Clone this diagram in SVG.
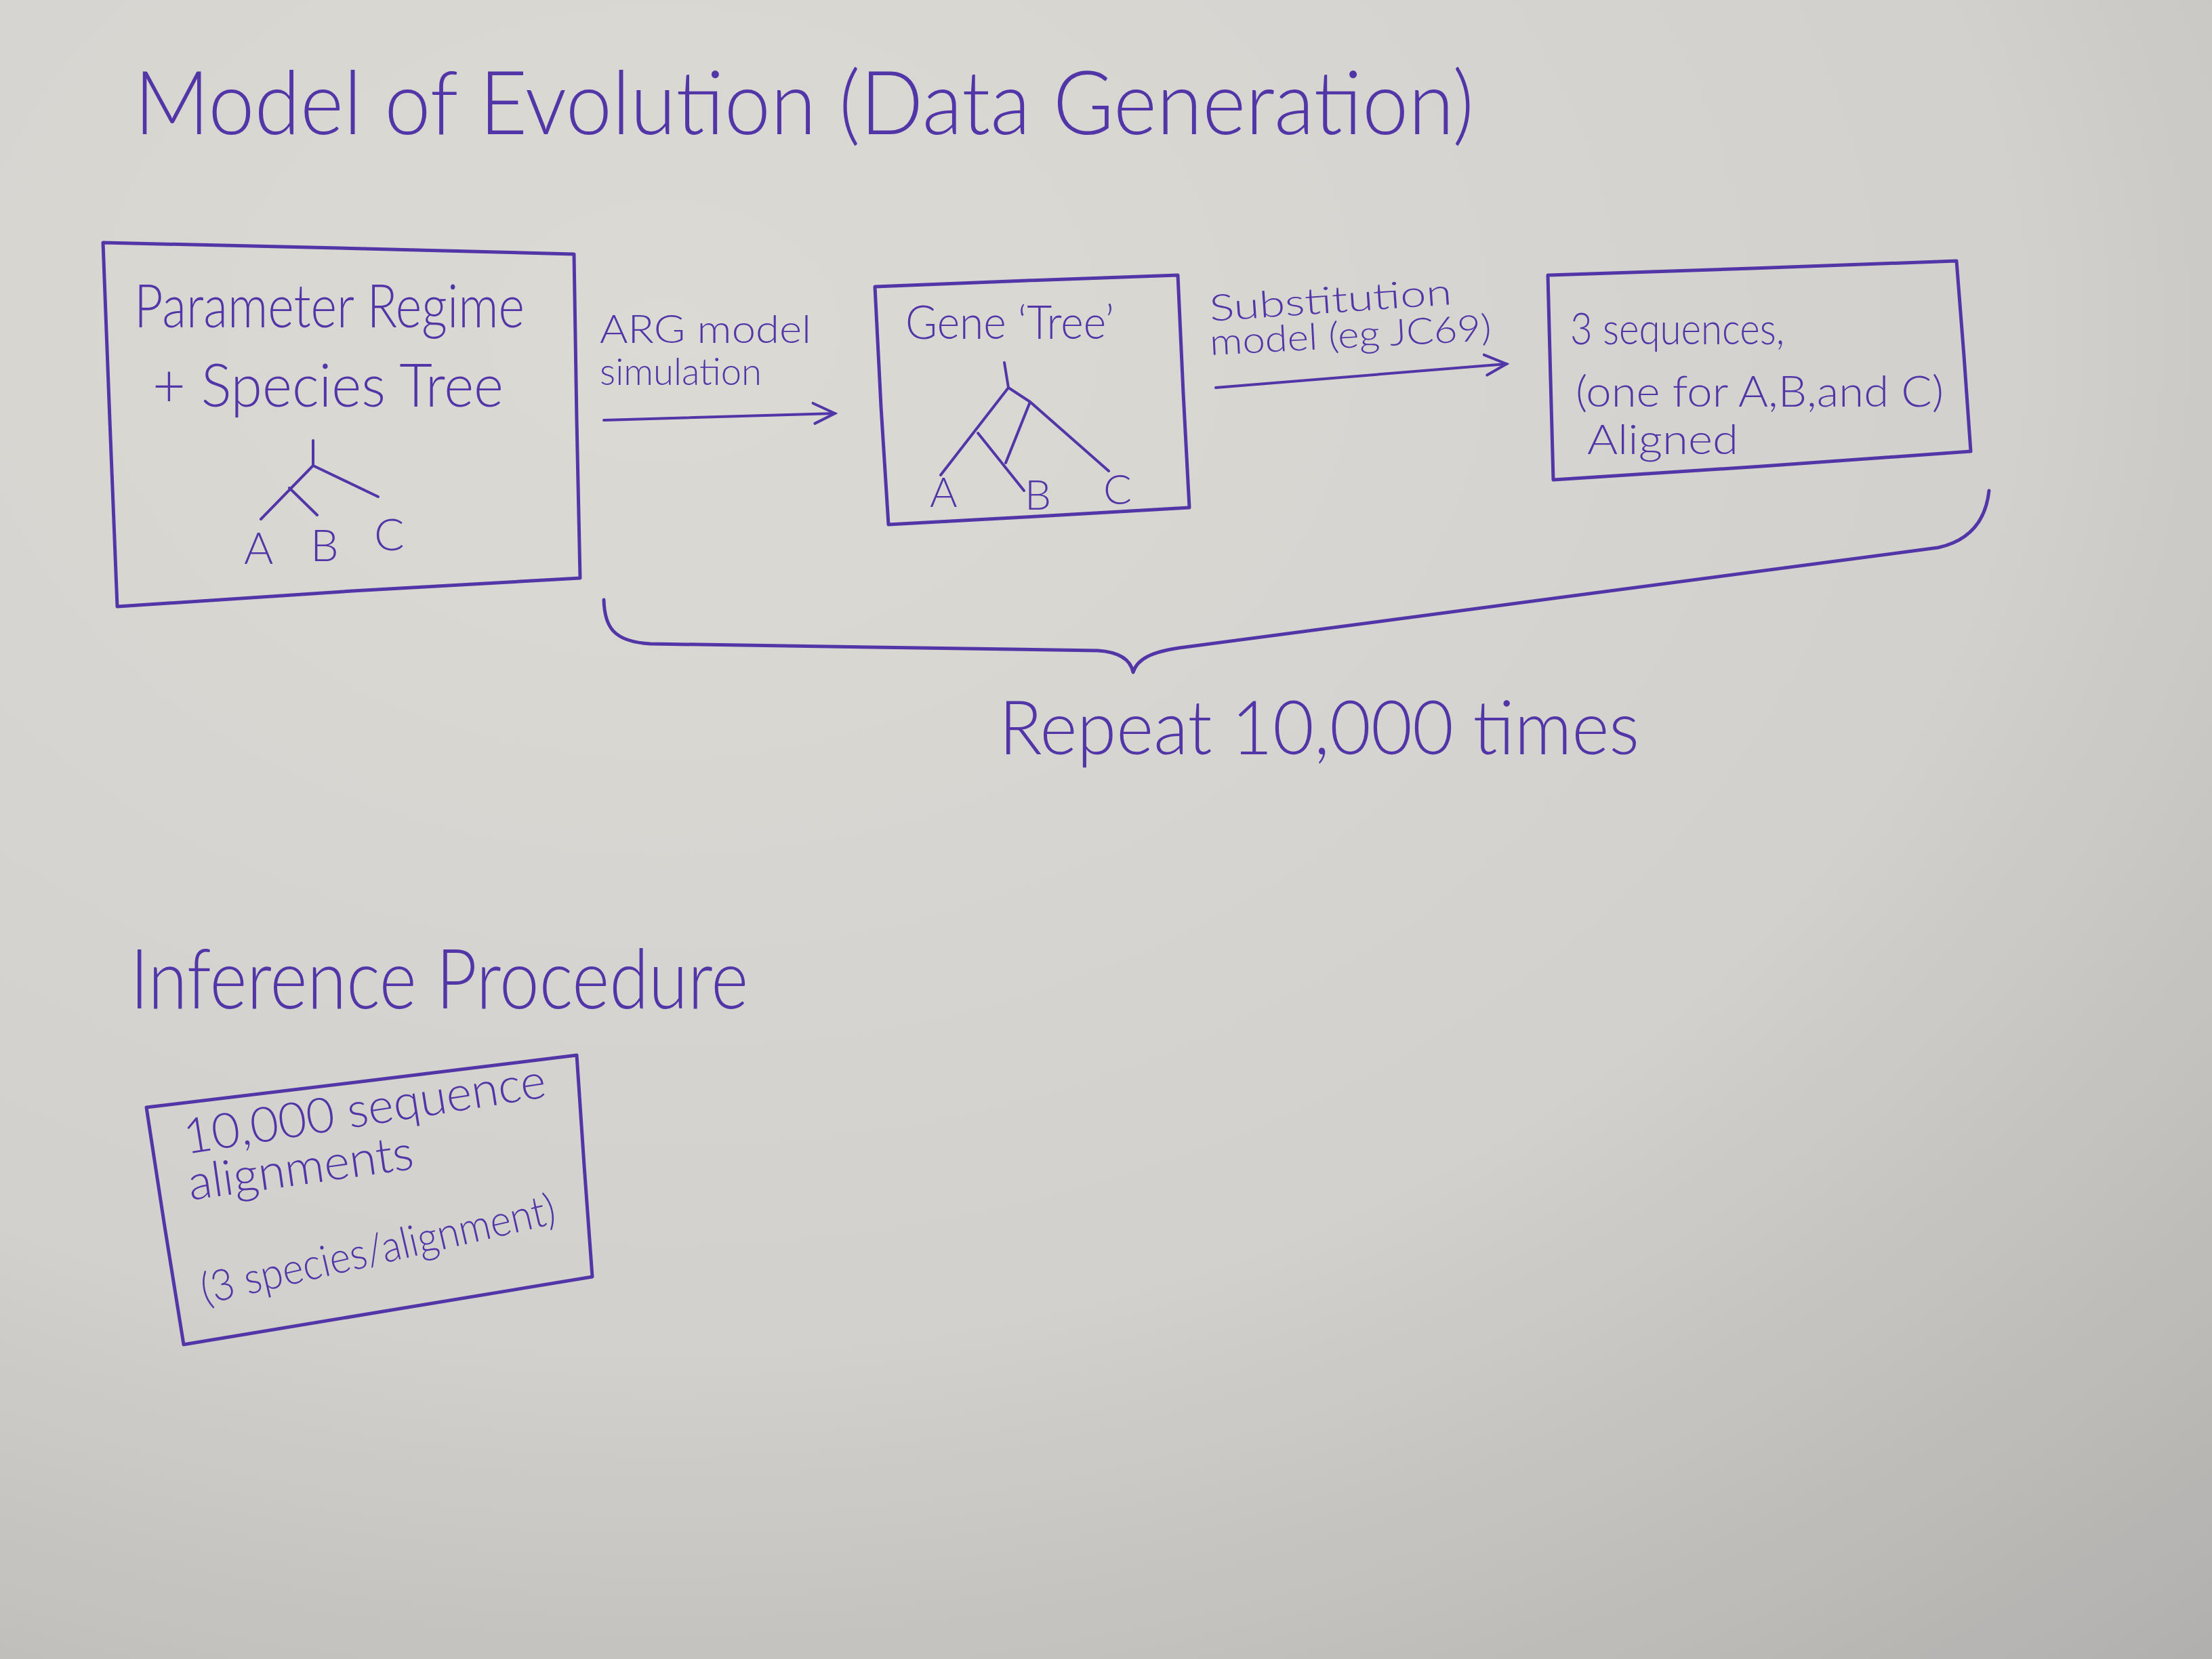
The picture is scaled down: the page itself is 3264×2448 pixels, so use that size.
<svg xmlns="http://www.w3.org/2000/svg" width="3264" height="2448" viewBox="0 0 3264 2448">
<defs>
<radialGradient id="paper" cx="0.3" cy="0.2" r="1.1">
<stop offset="0" stop-color="#dcdad5"/>
<stop offset="0.55" stop-color="#d3d1cd"/>
<stop offset="1" stop-color="#aeadab"/>
</radialGradient>
<marker id="arr" viewBox="0 0 40 40" refX="36" refY="20" markerWidth="40" markerHeight="40" markerUnits="userSpaceOnUse" orient="auto">
<path d="M4,4 L36,20 L6,34" fill="none" stroke="#5236a8" stroke-width="4" stroke-linecap="round"/>
</marker>
<style>
.ink{fill:none;stroke:#5236a8;stroke-width:5;stroke-linecap:round;stroke-linejoin:round}
.thin{fill:none;stroke:#5236a8;stroke-width:4;stroke-linecap:round;stroke-linejoin:round}
text{fill:#5236a8;font-family:"Lato","Liberation Sans",sans-serif;font-weight:300}
</style>
</defs>
<rect x="0" y="0" width="3264" height="2448" fill="url(#paper)"/>

<g id="title-model">
<text x="198" y="198" font-size="130" textLength="1977" lengthAdjust="spacingAndGlyphs">Model of Evolution (Data Generation)</text>
</g>

<g id="node-parameter">
<path class="ink" d="M152,358 L500,366 L847,375 L851,620 L856,853 L520,872 L173,895 L162,620 Z"/>
<text x="198" y="483" font-size="88" textLength="576" lengthAdjust="spacingAndGlyphs">Parameter Regime</text>
<text x="225" y="600" font-size="88" textLength="518" lengthAdjust="spacingAndGlyphs">+ Species Tree</text>
<path class="thin" d="M462,650 L462,687 M462,687 L385,766 M462,687 L558,733 M427,720 L468,760"/>
<text x="360" y="832" font-size="66">A</text>
<text x="458" y="828" font-size="66">B</text>
<text x="552" y="812" font-size="66">C</text>
</g>

<g id="node-genetree">
<path class="ink" d="M1291,423 L1515,414 L1738,406 L1746,580 L1755,749 L1530,762 L1311,774 L1300,600 Z"/>
<text x="1336" y="500" font-size="68" textLength="308" lengthAdjust="spacingAndGlyphs">Gene ‘Tree’</text>
<path class="thin" d="M1482,535 L1488,572 M1488,572 L1388,701 M1488,572 L1520,593 L1636,695 M1520,593 L1484,683 M1443,639 L1511,724"/>
<text x="1372" y="748" font-size="62">A</text>
<text x="1512" y="752" font-size="62">B</text>
<text x="1628" y="744" font-size="62">C</text>
</g>

<g id="node-sequences">
<path class="ink" d="M2284,406 L2585,396 L2887,385 L2898,525 L2908,666 L2600,688 L2292,708 L2288,560 Z"/>
<text x="2317" y="508" font-size="66" textLength="316" lengthAdjust="spacingAndGlyphs">3 sequences,</text>
<text x="2325" y="600" font-size="64" textLength="543" lengthAdjust="spacingAndGlyphs">(one for A,B,and C)</text>
<text x="2342" y="670" font-size="62" textLength="223" lengthAdjust="spacingAndGlyphs">Aligned</text>
</g>

<g id="title-inference">
<text x="192" y="1488" font-size="122" textLength="912" lengthAdjust="spacingAndGlyphs">Inference Procedure</text>
</g>

<g id="node-alignments">
<path class="ink" d="M216,1634 L533,1596 L851,1557 L862,1720 L874,1884 L572,1934 L271,1984 L243,1810 Z"/>
<text x="275" y="1703" font-size="72" textLength="540" lengthAdjust="spacingAndGlyphs" transform="rotate(-9 275 1703)">10,000 sequence</text>
<text x="281" y="1771" font-size="72" textLength="335" lengthAdjust="spacingAndGlyphs" transform="rotate(-8 281 1771)">alignments</text>
<text x="302" y="1925" font-size="64" textLength="535" lengthAdjust="spacingAndGlyphs" transform="rotate(-13 302 1925)">(3 species/alignment)</text>
</g>

<g id="connectors">
<path class="thin" d="M891,620 L1232,610" marker-end="url(#arr)"/>
<text x="885" y="506" font-size="58" textLength="312" lengthAdjust="spacingAndGlyphs">ARG model</text>
<text x="885" y="568" font-size="56" textLength="239" lengthAdjust="spacingAndGlyphs">simulation</text>
<path class="thin" d="M1794,572 L2223,537" marker-end="url(#arr)"/>
<text x="1786" y="474" font-size="54" textLength="358" lengthAdjust="spacingAndGlyphs" transform="rotate(-4 1786 474)">Substitution</text>
<text x="1786" y="524" font-size="54" textLength="416" lengthAdjust="spacingAndGlyphs" transform="rotate(-3 1786 524)">model (eg JC69)</text>
<path class="ink" d="M891,885 C892,925 905,947 960,950 L1620,960 C1650,962 1668,972 1672,992 C1678,972 1700,962 1740,956 L2860,808 C2905,798 2930,770 2935,724"/>
<text x="1474" y="1113" font-size="110" textLength="945" lengthAdjust="spacingAndGlyphs">Repeat 10,000 times</text>
</g>
</svg>
